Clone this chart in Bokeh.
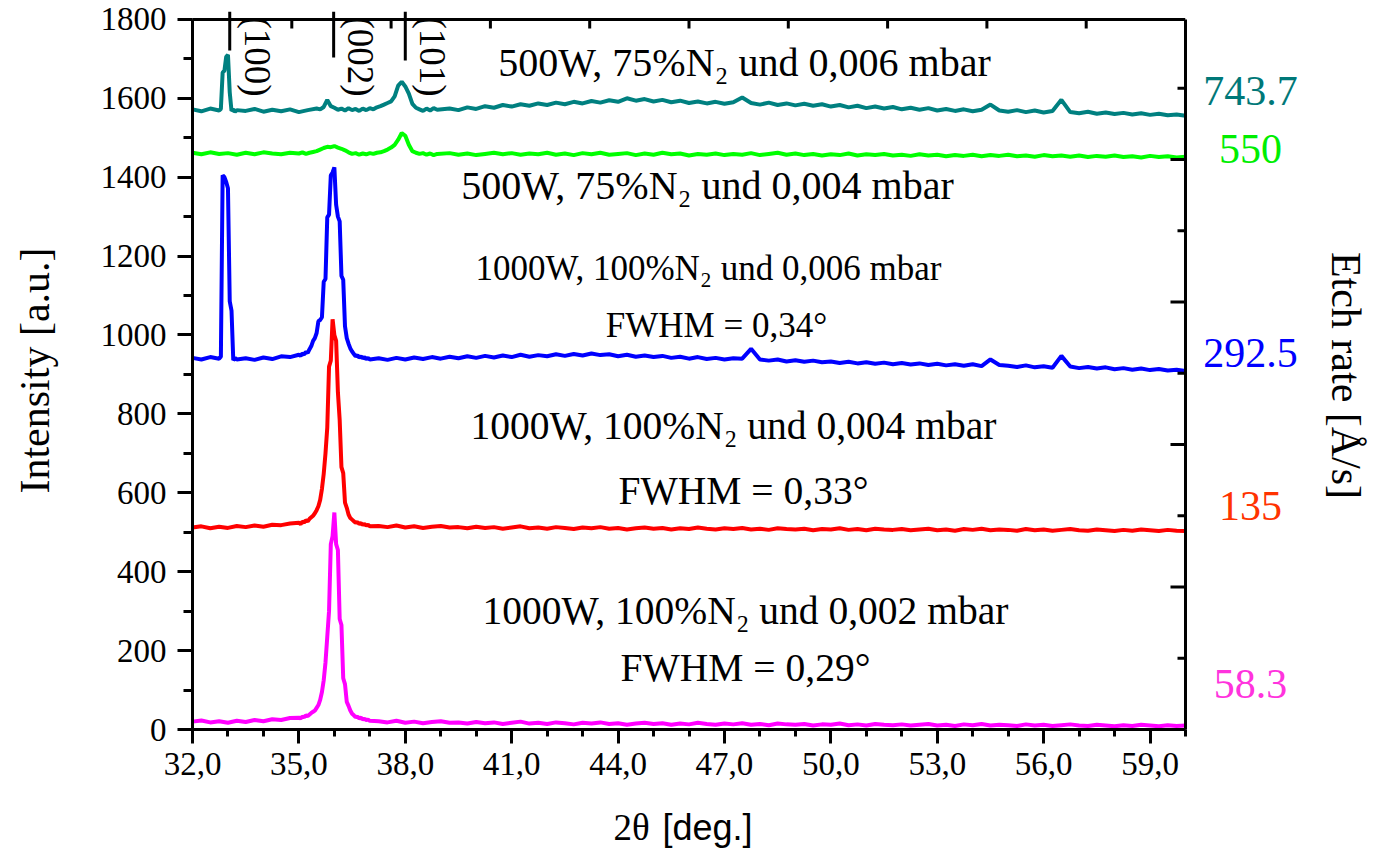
import numpy as np
from bokeh.plotting import figure
from bokeh.layouts import row, column
from bokeh.models import LinearAxis, Range1d, FixedTicker
from bokeh.core.properties import value
from bokeh.embed import file_html
from bokeh.resources import INLINE

# ---------------- data ----------------
# each series: list of segments (x_start, x_step, [intensity values])
MAGENTA = [
    (32.0, 0.25, [20, 23, 18, 21, 17, 22, 19, 24, 21, 26, 24, 29]),
    (35.0, 0.05, [30, 28, 33, 31, 36, 34, 38, 42, 45, 48,
                  55, 62, 75, 95, 125, 170, 235, 300, 470, 490,
                  550, 470, 455, 280, 265, 130, 115, 70, 60, 48,
                  40, 36, 31, 33, 28, 30, 26, 27, 24, 25, 22]),
    (37.25, 0.25, [21, 18, 22, 17, 20, 16, 19, 21, 17, 18, 15,
                   19, 16, 18, 14, 17, 20, 15, 17, 14, 18,
                   16, 13, 17, 15, 18, 14, 16, 12, 15, 17,
                   14, 16, 12, 15, 13, 17, 14, 12, 15, 13,
                   16, 12, 14, 11, 15, 13, 12, 14, 10, 13,
                   12, 15, 11, 13, 10, 14, 12, 11, 13, 10,
                   12, 14, 10, 12, 9, 13, 11, 14, 10, 12,
                   11, 9, 13, 10, 12, 9, 11, 13, 10, 9,
                   12, 10, 8, 11, 9, 12, 10, 8, 11, 9, 10]),
]
RED = [
    (32.0, 0.25, [512, 515, 510, 514, 511, 516, 513, 517, 514, 519, 518, 522]),
    (35.0, 0.05, [524, 521, 527, 525, 530, 528, 534, 538, 542, 548,
                  556, 566, 582, 610, 648, 700, 765, 920, 935, 1040,
                  1000, 985, 855, 785, 665, 650, 575, 562, 545, 536,
                  532, 528, 524, 526, 521, 523, 519, 521, 517, 519, 515]),
    (37.25, 0.25, [516, 513, 517, 512, 515, 511, 514, 516, 512, 513, 510,
                   514, 511, 513, 509, 512, 515, 510, 512, 509, 513,
                   511, 508, 512, 510, 513, 509, 511, 507, 510, 512,
                   509, 511, 507, 510, 508, 512, 509, 507, 510, 508,
                   511, 507, 509, 506, 510, 508, 507, 509, 505, 508,
                   507, 510, 506, 508, 505, 509, 507, 506, 508, 505,
                   507, 509, 505, 507, 504, 508, 506, 509, 505, 507,
                   506, 504, 508, 505, 507, 504, 506, 508, 505, 504,
                   507, 505, 503, 506, 504, 507, 505, 503, 506, 504, 503]),
]
BLUE = [
    (32.0, 0.25, [942, 938, 944, 940]),
    (32.8, 0.05, [945, 1405, 1400, 1388, 1372, 1085, 1062, 936, 942, 938]),
    (33.5, 0.25, [941, 937, 943, 939, 946, 944]),
    (35.0, 0.05, [950, 947, 953, 951, 957, 955, 964, 972, 985, 992,
                  1005, 1035, 1038, 1045, 1135, 1142, 1298, 1305, 1405, 1412,
                  1425, 1330, 1300, 1288, 1150, 1140, 1022, 992, 978, 966,
                  958, 952, 946, 949, 943, 946, 941, 944, 939, 942, 938]),
    (37.25, 0.25, [941, 937, 942, 938, 943, 939, 944, 940, 945, 941, 946,
                   942, 947, 943, 948, 944, 950, 945, 949, 946, 951,
                   947, 952, 948, 953, 949, 951, 946, 950, 945, 948,
                   944, 947, 942, 945, 940, 944, 939, 942, 938, 941,
                   940, 965, 938, 935, 938, 933, 936, 932, 935, 931,
                   933, 929, 932, 928, 931, 927, 930, 926, 929, 925,
                   928, 924, 927, 923, 926, 922, 926, 921, 938, 924,
                   922, 919, 923, 918, 921, 917, 947, 920, 916, 919,
                   915, 918, 913, 916, 912, 915, 911, 914, 910, 912, 909]),
]
GREEN = [
    (32.0, 0.25, [1462, 1458, 1463, 1459, 1461, 1457, 1462, 1458, 1463, 1460, 1458, 1462]),
    (35.0, 0.1, [1460, 1463, 1459, 1462, 1464, 1466, 1470, 1474, 1477, 1476,
                 1479, 1475, 1472, 1468, 1463, 1459, 1461, 1457, 1460, 1458,
                 1461, 1459, 1462, 1463, 1466, 1470, 1475, 1482, 1495, 1512,
                 1505, 1482, 1466, 1462, 1459, 1461, 1457, 1460, 1456, 1459]),
    (39.25, 0.25, [1461, 1457, 1460, 1456, 1459, 1462, 1458, 1461, 1457, 1460,
                   1458, 1462, 1457, 1460, 1456, 1461, 1458, 1462, 1457, 1459,
                   1461, 1456, 1460, 1457, 1462, 1458, 1460, 1455, 1459, 1457,
                   1460, 1456, 1459, 1457, 1461, 1456, 1459, 1462, 1457, 1460,
                   1456, 1459, 1455, 1458, 1456, 1460, 1455, 1458, 1456, 1459,
                   1455, 1457, 1454, 1458, 1455, 1457, 1453, 1456, 1454, 1457,
                   1453, 1456, 1454, 1457, 1453, 1455, 1452, 1456, 1453, 1455,
                   1452, 1455, 1451, 1454, 1452, 1455, 1451, 1453, 1450, 1454,
                   1451, 1453, 1450, 1452]),
]
TEAL = [
    (32.0, 0.25, [1572, 1567, 1574, 1569]),
    (32.8, 0.05, [1573, 1665, 1670, 1705, 1710, 1615, 1568, 1572, 1566, 1570]),
    (33.5, 0.25, [1568, 1573, 1566, 1571, 1567, 1572, 1565, 1570, 1574]),
    (35.6, 0.1, [1572, 1578, 1596, 1580, 1576, 1571, 1574, 1569, 1575, 1570,
                 1573, 1568, 1574, 1570, 1575, 1572, 1577, 1580, 1584, 1588,
                 1592, 1605, 1632, 1642, 1630, 1612, 1586, 1576, 1572, 1568,
                 1574, 1569, 1575, 1571]),
    (39.25, 0.25, [1574, 1570, 1577, 1573, 1580, 1576, 1583, 1579, 1585, 1581,
                   1587, 1583, 1589, 1585, 1591, 1587, 1593, 1589, 1595, 1591,
                   1600, 1594, 1598, 1592, 1596, 1590, 1594, 1588, 1592, 1587,
                   1591, 1586, 1590, 1602, 1588, 1584, 1589, 1583, 1587, 1582,
                   1586, 1581, 1585, 1579, 1583, 1577, 1581, 1575, 1579, 1574,
                   1578, 1572, 1576, 1571, 1575, 1569, 1573, 1568, 1572, 1567,
                   1571, 1584, 1569, 1566, 1570, 1565, 1569, 1564, 1568, 1596,
                   1565, 1562, 1566, 1561, 1564, 1560, 1563, 1559, 1562, 1558,
                   1561, 1557, 1559, 1556]),
]

SERIES = [TEAL, GREEN, BLUE, RED, MAGENTA]
COLORS = ["#008080", "#00FF00", "#0000FF", "#FF0000", "#FF00FF"]
ETCH_RATES = ["743.7", "550", "292.5", "135", "58.3"]
ETCH_COLORS = ["#007878", "#00EE00", "#0000FF", "#FF3300", "#FF33DD"]

CONDITIONS = ["500W, 75%N\u2082 und 0,006 mbar",
              "500W, 75%N\u2082 und 0,004 mbar",
              "1000W, 100%N\u2082 und 0,006 mbar",
              "FWHM = 0,34°",
              "1000W, 100%N\u2082 und 0,004 mbar",
              "FWHM = 0,33°",
              "1000W, 100%N\u2082 und 0,002 mbar",
              "FWHM = 0,29°"]

PEAK_POS = [33.05, 35.98, 38.0]
PEAK_LABELS = ["(100)", "(002)", "(101)"]

X_TICKS = [32, 35, 38, 41, 44, 47, 50, 53, 56, 59]
X_MINOR = list(range(32, 61))
Y_TICKS = list(range(0, 1801, 200))
Y_MINOR = list(range(0, 1801, 100))
TOP_TICKS = [34.8, 37.6, 40.4, 43.2, 46.0, 48.8, 51.6, 54.4, 57.2]
RIGHT_TICKS = [0, 1, 2, 3, 4]
RIGHT_MINOR = [0.5, 1.5, 2.5, 3.5, 4.5]

SERIF = "Liberation Serif"
SANS = "Liberation Sans"

# ---------------- geometry (pixels) ----------------
FRAME_L, FRAME_R, FRAME_T, FRAME_B = 192, 1185, 11, 729
MAIN_W = 1190
SIDE_W = 1382 - MAIN_W
TOP_H = 799
BOT_H = 852 - TOP_H
Y_END = 1820.0
X0, X1 = 32.0, 60.0
PX_X = (FRAME_R - FRAME_L) / (X1 - X0)
PX_Y = (FRAME_B - FRAME_T) / Y_END
ETCH_PER_INT = 4.0 / 1445.0   # right-axis unit per intensity unit


def dx(px):      # screen x -> 2theta
    return X0 + (px - FRAME_L) / PX_X


def dy(py):      # screen y -> intensity
    return (FRAME_B - py) / PX_Y


def build(segments):
    xs, ys = [], []
    for x0, step, vals in segments:
        for i, v in enumerate(vals):
            xs.append(round(x0 + step * i, 3))
            ys.append(v)
    return xs, ys


xr = Range1d(X0, X1)
yr = Range1d(0, Y_END)

p = figure(width=MAIN_W, height=TOP_H, x_range=xr, y_range=yr,
           output_backend="svg", toolbar_location=None,
           min_border_left=FRAME_L, min_border_right=MAIN_W - FRAME_R,
           min_border_top=FRAME_T, min_border_bottom=TOP_H - FRAME_B)
p.xgrid.visible = False
p.ygrid.visible = False
p.outline_line_color = None
p.background_fill_color = "white"
p.border_fill_color = "white"

for seg, col in zip(SERIES, COLORS):
    xs, ys = build(seg)
    p.line(xs, ys, line_color=col, line_width=4)

# bottom axis
xa = p.xaxis[0]
xa.ticker = FixedTicker(ticks=X_TICKS, minor_ticks=X_MINOR)
xa.major_label_overrides = {t: f"{t},0" for t in X_TICKS}
xa.major_label_text_font = SERIF
xa.major_label_text_font_size = "33px"
xa.major_label_text_color = "black"
xa.major_label_standoff = 9
xa.axis_line_width = 3
xa.major_tick_line_width = 3
xa.minor_tick_line_width = 3
xa.major_tick_out = 14
xa.major_tick_in = 0
xa.minor_tick_out = 7
xa.minor_tick_in = 0

# left axis
ya = p.yaxis[0]
ya.ticker = FixedTicker(ticks=Y_TICKS, minor_ticks=Y_MINOR)
ya.bounds = (0, 1800)
ya.major_label_text_font = SERIF
ya.major_label_text_font_size = "33px"
ya.major_label_text_color = "black"
ya.major_label_standoff = 11
ya.axis_line_width = 3
ya.major_tick_line_width = 3
ya.minor_tick_line_width = 3
ya.major_tick_out = 15
ya.major_tick_in = 0
ya.minor_tick_out = 9
ya.minor_tick_in = 0
ya.axis_label = "Intensity [a.u.]"
ya.axis_label_text_font = SERIF
ya.axis_label_text_font_size = "42px"
ya.axis_label_text_font_style = "normal"
ya.axis_label_text_color = "black"
ya.axis_label_standoff = 40

# right axis line (Etch-rate axis); its ticks point inward
p.extra_y_ranges = {"etch": Range1d(0, Y_END * ETCH_PER_INT)}
ra = LinearAxis(y_range_name="etch", ticker=FixedTicker(ticks=[], minor_ticks=[]),
                bounds=(0, 1800 * ETCH_PER_INT), axis_line_width=3)
p.add_layout(ra, "right")
TICK_MAJ = 15 / PX_X
TICK_MIN = 8 / PX_X
p.segment(x0=[X1] * len(RIGHT_TICKS), x1=[X1 - TICK_MAJ] * len(RIGHT_TICKS),
          y0=RIGHT_TICKS, y1=RIGHT_TICKS, y_range_name="etch", line_color="black", line_width=3)
p.segment(x0=[X1] * len(RIGHT_MINOR), x1=[X1 - TICK_MIN] * len(RIGHT_MINOR),
          y0=RIGHT_MINOR, y1=RIGHT_MINOR, y_range_name="etch", line_color="black", line_width=3)

# top border with inward ticks
p.segment(x0=[X0], x1=[X1], y0=[1800], y1=[1800], line_color="black", line_width=3)
TOP_LEN = 9 / PX_Y
p.segment(x0=TOP_TICKS, x1=TOP_TICKS, y0=[1800] * len(TOP_TICKS),
          y1=[1800 - TOP_LEN] * len(TOP_TICKS), line_color="black", line_width=3)

# reflection markers
MARK_BOTTOM = [dy(50), dy(57), dy(60)]
p.segment(x0=PEAK_POS, x1=PEAK_POS, y0=MARK_BOTTOM, y1=[Y_END] * 3, line_color="black", line_width=3)
p.text(x=[xp + 0.77 for xp in PEAK_POS], y=[dy(16)] * 3, text=PEAK_LABELS, angle=-np.pi / 2,
       text_font=value(SERIF), text_font_size="37px", text_align="left",
       text_baseline="middle", text_color="black")

# condition texts (the 1000 W / 0,006 mbar pair is set smaller in the original)
COND_PX = [(744, 62), (707, 185), (708, 268), (716, 325), (733, 425), (743, 490), (745, 610), (745, 667)]
COND_SIZE = ["40px", "40px", "35px", "35px", "39.5px", "39.5px", "39.5px", "39.5px"]
p.text(x=[dx(a) for a, b in COND_PX], y=[dy(b) for a, b in COND_PX], text=CONDITIONS,
       text_font=value(SERIF), text_font_size=COND_SIZE, text_align="center",
       text_baseline="middle", text_color="black")

# ---------------- side panel: etch rates ----------------
side = figure(width=SIDE_W, height=TOP_H, x_range=Range1d(0, SIDE_W), y_range=yr,
              output_backend="svg", toolbar_location=None, x_axis_type=None, y_axis_type=None,
              min_border_left=0, min_border_right=0,
              min_border_top=FRAME_T, min_border_bottom=TOP_H - FRAME_B)
side.xgrid.visible = False
side.ygrid.visible = False
side.outline_line_color = None
ETCH_PY = [90, 148, 352, 505, 683]
side.text(x=[1250 - MAIN_W] * 5, y=[dy(v) for v in ETCH_PY], text=ETCH_RATES,
          text_color=ETCH_COLORS, text_font=value(SERIF), text_font_size="42px",
          text_align="center", text_baseline="middle")
side.text(x=[1345 - MAIN_W], y=[dy(375)], text=["Etch rate [Å/s]"], angle=-np.pi / 2,
          text_font=value(SERIF), text_font_size="42px", text_align="center",
          text_baseline="middle", text_color="black")

# ---------------- bottom panel: x-axis title ----------------
bot = figure(width=1382, height=BOT_H, x_range=xr, y_range=Range1d(0, BOT_H),
             output_backend="svg", toolbar_location=None, x_axis_type=None, y_axis_type=None,
             min_border_left=FRAME_L, min_border_right=1382 - FRAME_R,
             min_border_top=0, min_border_bottom=0)
bot.xgrid.visible = False
bot.ygrid.visible = False
bot.outline_line_color = None
TITLE_Y = 852 - 827
bot.text(x=[dx(613)], y=[TITLE_Y], text=["2θ"], text_font=value(SERIF), text_font_size="37px",
         text_align="left", text_baseline="middle", text_color="black")
bot.text(x=[dx(662)], y=[TITLE_Y], text=["[deg.]"], text_font=value(SANS), text_font_size="36px",
         text_align="left", text_baseline="middle", text_color="black")

layout = column(row(p, side), bot)
open("out.html", "w").write(file_html(layout, INLINE))
